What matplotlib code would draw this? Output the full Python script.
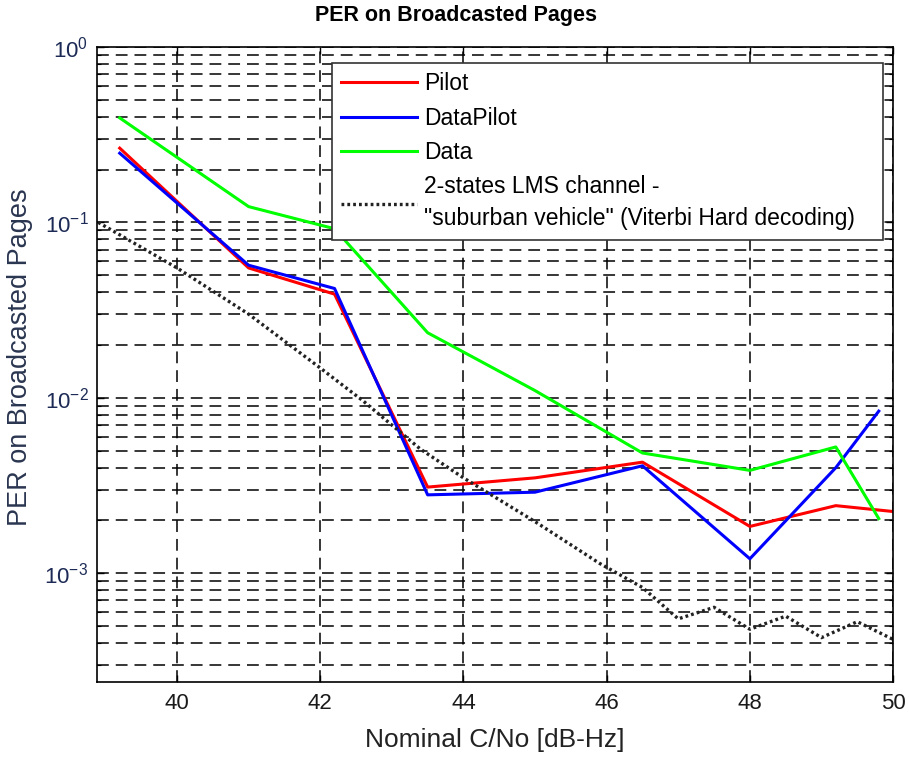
import matplotlib
matplotlib.use("Agg")
import matplotlib.pyplot as plt
from matplotlib.ticker import LogLocator, NullFormatter, MultipleLocator

plt.rcParams["font.family"] = ["Liberation Sans", "DejaVu Sans"]
plt.rcParams["mathtext.fontset"] = "custom"
plt.rcParams["mathtext.rm"] = "Liberation Sans"
plt.rcParams["lines.scale_dashes"] = False

# PER curves vs nominal C/No
cn_pilot = [39.2, 41.0, 42.2, 43.5, 45.0, 46.5, 48.0, 49.2, 50.0]
per_pilot = [0.265, 0.055, 0.039, 0.0031, 0.0035, 0.0043, 0.00185, 0.00243, 0.00225]

cn_datapilot = [39.2, 41.0, 42.2, 43.5, 45.0, 46.5, 48.0, 49.2, 49.8]
per_datapilot = [0.248, 0.057, 0.042, 0.0028, 0.0029, 0.0041, 0.00121, 0.0040, 0.0084]

cn_data = [39.2, 41.0, 42.2, 43.5, 45.0, 46.5, 48.0, 49.2, 49.8]
per_data = [0.394, 0.123, 0.092, 0.0235, 0.011, 0.00485, 0.00386, 0.00525, 0.00205]

# reference LMS channel curve
cn_lms = [38.9, 40.0, 41.0, 42.0, 42.6, 43.4, 44.0, 45.0, 45.9, 46.5,
          47.0, 47.5, 48.0, 48.5, 49.0, 49.5, 50.0]
per_lms = [0.100, 0.055, 0.030, 0.0148, 0.0096, 0.0051, 0.0035, 0.00197, 0.00114, 0.00083,
           0.00055, 0.00064, 0.00048, 0.00057, 0.00043, 0.00053, 0.00042]

labels = ["Pilot", "DataPilot", "Data",
          "2-states LMS channel -\n\"suburban vehicle\" (Viterbi Hard decoding)"]

fig = plt.figure(figsize=(9.09, 7.57), dpi=100)
ax = fig.add_axes([0.1065, 0.099, 0.876, 0.839])

ax.semilogy(cn_pilot, per_pilot, color="#ff0000", lw=2.2, label=labels[0])
ax.semilogy(cn_datapilot, per_datapilot, color="#0000ff", lw=2.2, label=labels[1])
ax.semilogy(cn_data, per_data, color="#00ff00", lw=2.2, label=labels[2])
ax.semilogy(cn_lms, per_lms, color="#222222", lw=2.4, dashes=(2.0, 2.2), label=labels[3])

ax.set_xlim(38.88, 50)
ax.set_ylim(2.4e-4, 1)
ax.xaxis.set_major_locator(MultipleLocator(2))
ax.yaxis.set_major_locator(LogLocator(base=10, numticks=10))
ax.yaxis.set_minor_locator(LogLocator(base=10, subs=range(2, 10), numticks=20))
ax.yaxis.set_minor_formatter(NullFormatter())

ax.set_axisbelow(True)
grid_kw = dict(color="black", lw=1.1, dashes=(8.5, 5.0))
ax.grid(True, which="major", axis="both", **grid_kw)
ax.grid(True, which="minor", axis="y", **grid_kw)

ax.tick_params(which="both", direction="in", top=True, right=True)
ax.tick_params(which="major", length=5, width=1.0)
ax.tick_params(which="minor", length=3, width=0.8)
ax.tick_params(axis="x", labelsize=16, pad=8, labelcolor="#1a1a1a")
ax.tick_params(axis="y", labelsize=16, pad=6, labelcolor="#1c2a55")
for sp in ax.spines.values():
    sp.set_linewidth(1.2)

ax.set_xlabel("Nominal C/No [dB-Hz]", fontsize=19, color="#222222", labelpad=10)
ax.set_ylabel("PER on Broadcasted Pages", fontsize=19.5, color="#2a3550")
ax.yaxis.set_label_coords(-0.080, 0.512)
ax.set_title("PER on Broadcasted Pages", fontsize=15.5, fontweight="bold",
             x=0.451, pad=19)

leg = ax.legend(loc="upper left", bbox_to_anchor=(0.2954, 0.7, 0.692, 0.2748),
                mode="expand", borderaxespad=0, fontsize=16.5, handlelength=3.3,
                handletextpad=0.3, fancybox=False, framealpha=1,
                edgecolor="#333333", borderpad=0.4, labelspacing=0.5)
leg.get_frame().set_linewidth(1.2)
for t in leg.get_texts():
    t.set_linespacing(1.5)

fig.savefig("out.png", dpi=100)
